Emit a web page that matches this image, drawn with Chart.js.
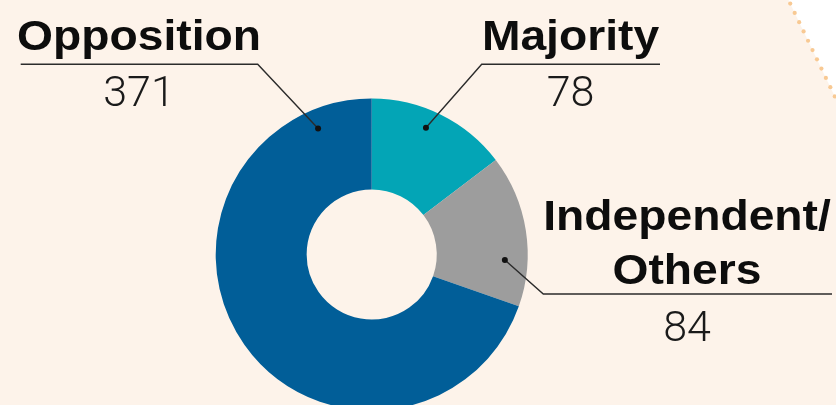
<!DOCTYPE html>
<html>
<head>
<meta charset="utf-8">
<script src="https://cdn.jsdelivr.net/npm/chart.js@4"></script>
<style>
  html, body { margin: 0; padding: 0; overflow: hidden; background: #fdf3ea; }
  #wrap { width: 836px; height: 405px; overflow: hidden; }
</style>
</head>
<body>
<div id="wrap"><canvas id="seats" width="836" height="420"></canvas></div>
<script>
const categories = ["Majority", "Independent/Others", "Opposition"];
const seats = [78, 84, 371];
const labelLines = [["Majority"], ["Independent/", "Others"], ["Opposition"]];
const sliceColors = ["#03a5b6", "#9d9d9d", "#015e98"];

// callout layout (where each label sits and where the leader dot lands inside its slice)
const callouts = [
  { along: 0.44, depth: 0.80, elbow: [481.7, 64.3], end: 660, textX: 570.5, baselines: [49.5], numY: 106 },
  { along: 0.70, depth: 0.75, elbow: [543.3, 294], end: 832, textX: 687, baselines: [229.5, 283.5], numY: 340.5 },
  { along: 0.908, depth: 0.79, elbow: [257.7, 64.3], end: 20.7, textX: 139, baselines: [49.5], numY: 106 }
];

const backdrop = {
  id: "backdrop",
  beforeDraw(chart) {
    const c = chart.ctx;
    c.save();
    c.fillStyle = "#fdf3ea";
    c.fillRect(0, 0, chart.width, chart.height);
    c.fillStyle = "#ffffff";
    c.beginPath();
    c.moveTo(788.5, 0);
    c.lineTo(836, 0);
    c.lineTo(836, 99);
    c.closePath();
    c.fill();
    // dotted edge
    c.fillStyle = "#f8c993";
    const x0 = 788.5, y0 = 0, x1 = 836, y1 = 99;
    const len = Math.hypot(x1 - x0, y1 - y0);
    for (let d = 4; d < len; d += 10.3) {
      c.beginPath();
      c.arc(x0 + (x1 - x0) * d / len, y0 + (y1 - y0) * d / len, 2.1, 0, Math.PI * 2);
      c.fill();
    }
    c.restore();
  }
};

const callout = {
  id: "callout",
  afterDraw(chart) {
    const c = chart.ctx;
    const arcs = chart.getDatasetMeta(0).data;
    c.save();
    arcs.forEach((arc, i) => {
      const p = arc.getProps(["x", "y", "startAngle", "endAngle", "innerRadius", "outerRadius"], true);
      const o = callouts[i];
      const a = p.startAngle + (p.endAngle - p.startAngle) * o.along;
      const r = p.innerRadius + (p.outerRadius - p.innerRadius) * o.depth;
      const dx = p.x + Math.cos(a) * r;
      const dy = p.y + Math.sin(a) * r;

      c.strokeStyle = "#2b2b2b";
      c.lineWidth = 1.4;
      c.beginPath();
      c.moveTo(dx, dy);
      c.lineTo(o.elbow[0], o.elbow[1]);
      c.lineTo(o.end, o.elbow[1]);
      c.stroke();
      c.fillStyle = "#111";
      c.beginPath();
      c.arc(dx, dy, 3, 0, Math.PI * 2);
      c.fill();

      c.textAlign = "center";
      c.textBaseline = "alphabetic";
      c.fillStyle = "#0d0d0d";
      c.font = "bold 43px 'Liberation Sans', Arial, sans-serif";
      labelLines[i].forEach((t, k) => {
        c.save();
        c.translate(o.textX, o.baselines[k]);
        c.scale(1.075, 1);
        c.fillText(t, 0, 0);
        c.restore();
      });
      c.font = "300 43px Roboto, 'Liberation Sans', sans-serif";
      c.fillStyle = "#1a1a1a";
      c.fillText(String(seats[i]), o.textX, o.numY);
    });
    c.restore();
  }
};

new Chart(document.getElementById("seats"), {
  type: "doughnut",
  data: {
    labels: categories,
    datasets: [
      {
        data: seats,
        backgroundColor: sliceColors,
        borderWidth: 0,
        hoverOffset: 0
      }
    ]
  },
  options: {
    responsive: false,
    animation: false,
    cutout: "41.7%",
    layout: {
      padding: { left: 215.7, right: 308.3, top: 98.5, bottom: 9.5 }
    },
    plugins: {
      legend: { display: false },
      tooltip: { enabled: false }
    }
  },
  plugins: [backdrop, callout]
});
</script>
</body>
</html>
